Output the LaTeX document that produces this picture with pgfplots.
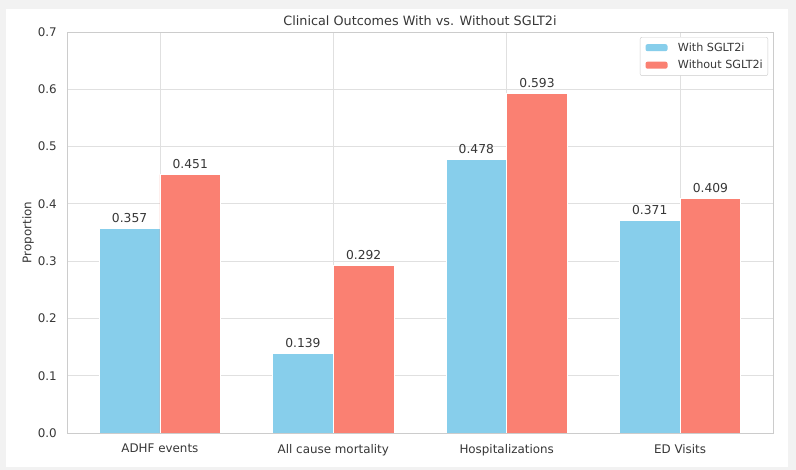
\documentclass[border=0pt]{standalone}
\usepackage{pgfplots}
\pgfplotsset{compat=1.18}
\usepackage{fontspec}
\setmainfont{DejaVu Sans}

\definecolor{skyblue}{RGB}{135,206,235}
\definecolor{salmon}{RGB}{250,128,114}
\definecolor{bggray}{RGB}{242,242,242}
\definecolor{gridgray}{RGB}{224,224,224}
\definecolor{framegray}{RGB}{204,204,204}
\definecolor{txt}{RGB}{55,55,55}

\begin{document}
\begin{tikzpicture}
\useasboundingbox (0,0) rectangle (796bp,470bp);
\fill[bggray] (0,0) rectangle (796bp,470bp);
\fill[white] (6bp,3bp) rectangle (788bp,461bp);
\begin{axis}[
    at={(67bp,37bp)}, anchor=south west,
    scale only axis, width=706bp, height=401bp,
    ybar, bar width=0.35,
    xmin=-0.536, xmax=3.536,
    ymin=0, ymax=0.7,
    xtick={0,1,2,3},
    xticklabels={ADHF events, All cause mortality, Hospitalizations, ED Visits},
    ytick={0,0.1,0.2,0.3,0.4,0.5,0.6,0.7},
    yticklabel style={/pgf/number format/fixed, /pgf/number format/fixed zerofill, /pgf/number format/precision=1},
    /pgf/number format/assume math mode=true,
    major tick length=0pt,
    tick label style={font=\fontsize{11.9bp}{14bp}\selectfont, text=txt, inner sep=0pt},
    yticklabel style={xshift=-10bp},
    xticklabel style={yshift=-11bp},
    xmajorgrids, ymajorgrids,
    grid style={gridgray, line width=0.8bp},
    axis line style={framegray, line width=1bp},
    ylabel={Proportion},
    ylabel style={at={(axis description cs:0,0.5)}, anchor=south, inner sep=0pt, yshift=33bp,
        font=\fontsize{11.9bp}{14bp}\selectfont, text=txt},
    title={Clinical Outcomes With vs. Without SGLT2i},
    title style={at={(axis description cs:0.5,1)}, anchor=base, inner sep=0pt, yshift=1bp,
        font=\fontsize{12.8bp}{15bp}\selectfont, text=txt},
    nodes near coords={\pgfmathprintnumber[fixed,fixed zerofill,precision=3,assume math mode=true]{\pgfplotspointmeta}},
    every node near coord/.append style={font=\fontsize{12.3bp}{14bp}\selectfont, text=txt,
        anchor=base, inner sep=0pt, yshift=6bp},
    legend style={at={(axis description cs:1,1)}, anchor=north east, xshift=-5bp, yshift=-5bp,
        draw=framegray, rounded corners=2bp, fill=white,
        font=\fontsize{11.2bp}{13bp}\selectfont, text=txt,
        inner xsep=3bp, inner ysep=3.5bp, row sep=3.5bp},
    legend cell align=left,
    legend image code/.code={\path (-2bp,0) -- (30bp,0);
        \fill[#1,draw=none] (0bp,-3.5bp) rectangle (22bp,3.5bp);},
]
\addplot[fill=skyblue, draw=white, line width=0.8bp, bar shift=-0.175] coordinates {
    (0,0.357) (1,0.139) (2,0.478) (3,0.371)
};
\addplot[fill=salmon, draw=white, line width=0.8bp, bar shift=0.175] coordinates {
    (0,0.451) (1,0.292) (2,0.593) (3,0.409)
};
\legend{With SGLT2i, Without SGLT2i\hspace{6bp}}
\end{axis}
\end{tikzpicture}
\end{document}
